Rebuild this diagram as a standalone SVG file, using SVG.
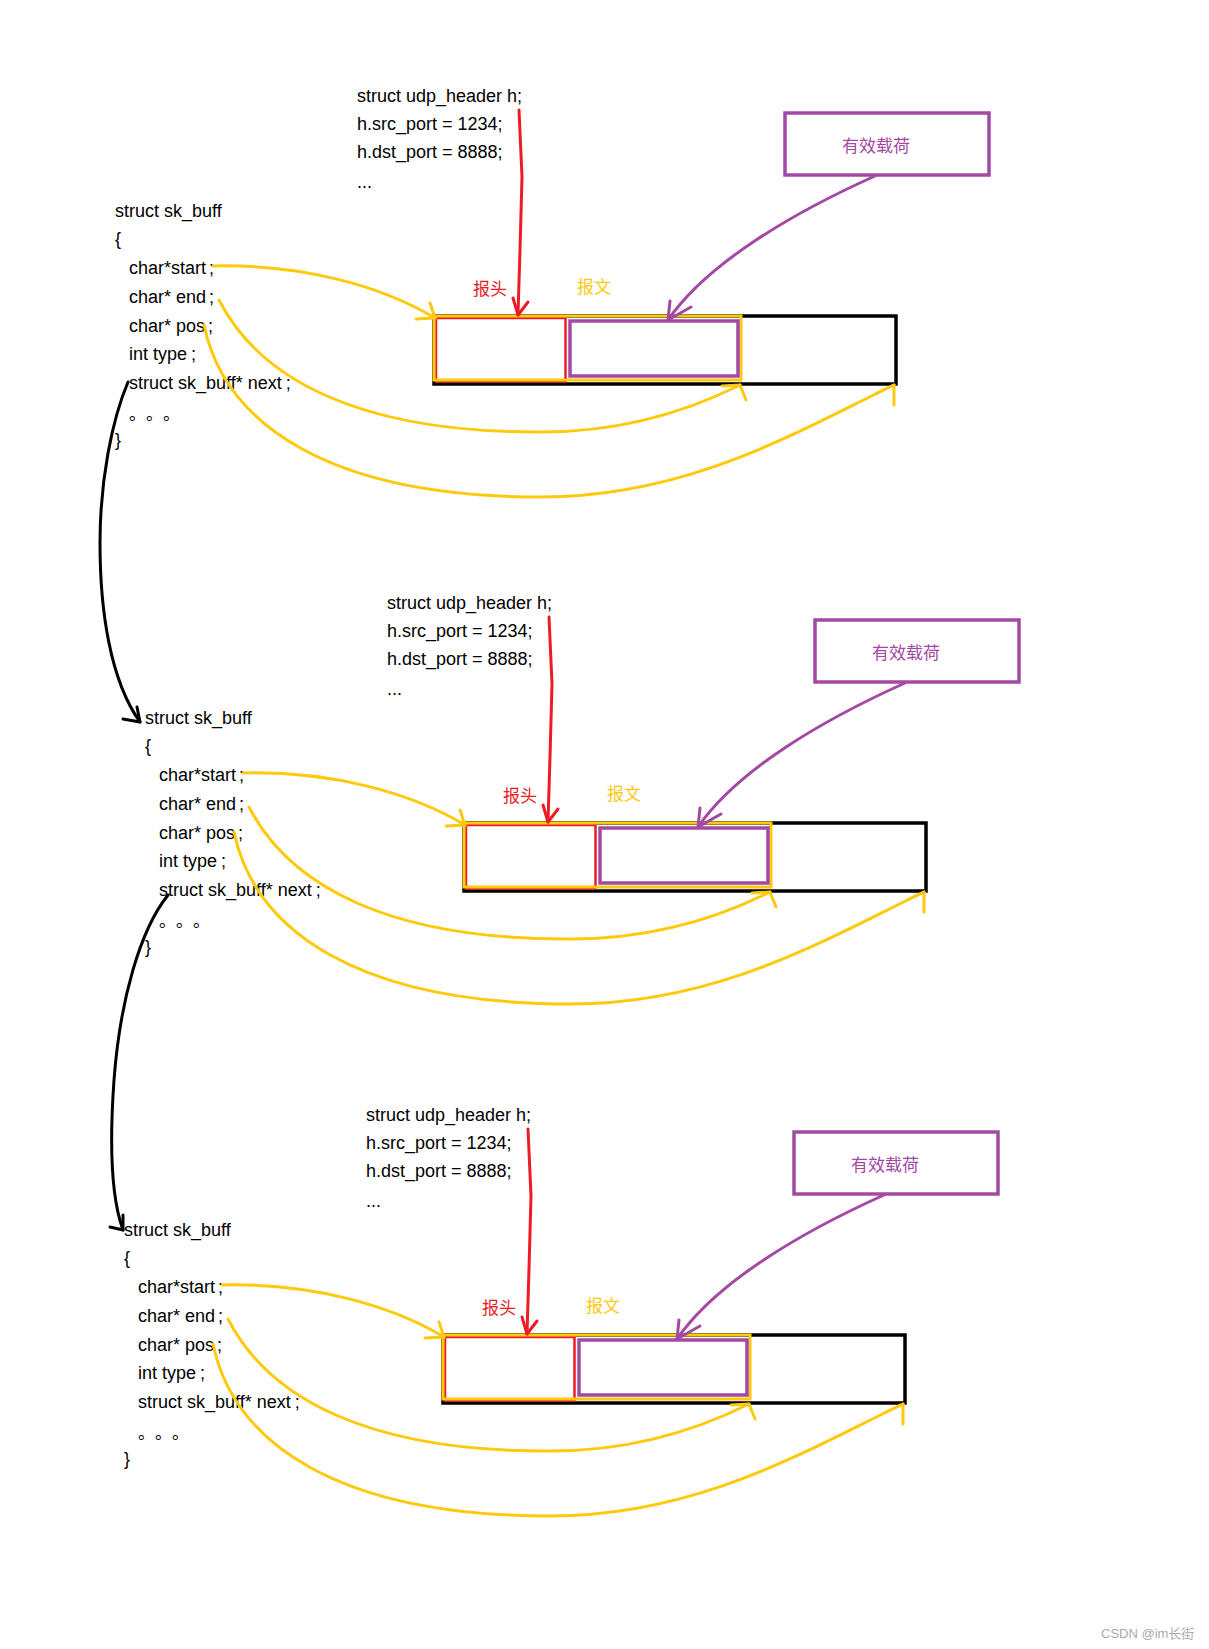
<svg xmlns="http://www.w3.org/2000/svg" width="1209" height="1649" viewBox="0 0 1209 1649">
<style>
.code{font-family:"Liberation Sans","Noto Sans CJK SC",sans-serif;font-size:18px;fill:#000}
.dots{font-family:"Noto Sans CJK SC",sans-serif;font-size:17px;fill:#000}
.cjk{font-family:"Noto Sans CJK SC",sans-serif;font-size:17px}
.red{fill:#ED1C24}.gold{fill:#FFC90E}.pur{fill:#A349A4}
.yl{stroke:#FFC90E;stroke-width:3;fill:none;stroke-linecap:round;stroke-linejoin:round}
.rl{stroke:#ED1C24;stroke-width:3;fill:none;stroke-linecap:round;stroke-linejoin:round}
.pl{stroke:#A349A4;stroke-width:3;fill:none;stroke-linecap:round;stroke-linejoin:round}
.bl{stroke:#000;stroke-width:3;fill:none;stroke-linecap:round;stroke-linejoin:round}
.wm{font-family:"Liberation Sans","Noto Sans CJK SC",sans-serif;font-size:13px;fill:#aaa}
</style>
<rect width="1209" height="1649" fill="#fff"/>

<!-- Block 1 -->
<g id="block1">
  <g id="b1-udp">
    <text class="code" x="357" y="102">struct udp_header h;</text>
    <text class="code" x="357" y="130">h.src_port = 1234;</text>
    <text class="code" x="357" y="158">h.dst_port = 8888;</text>
    <text class="code" x="357" y="188">...</text>
  </g>
  <g id="b1-skbuff">
    <text class="code" x="115" y="217">struct sk_buff</text>
    <text class="code" x="115" y="245">{</text>
    <text class="code" x="129" y="274">char*start<tspan dx="3">;</tspan></text>
    <text class="code" x="129" y="303">char* end<tspan dx="3">;</tspan></text>
    <text class="code" x="129" y="332">char* pos<tspan dx="3">;</tspan></text>
    <text class="code" x="129" y="360">int type<tspan dx="4">;</tspan></text>
    <text class="code" x="129" y="389">struct sk_buff* next<tspan dx="4">;</tspan></text>
    <text class="dots" x="129 146 163" y="420">。。。</text>
    <text class="code" x="115" y="446">}</text>
  </g>
  <g id="b1-payload">
    <rect x="785" y="113" width="204" height="62" fill="none" stroke="#A349A4" stroke-width="3.5"/>
    <text class="cjk pur" x="842" y="152">有效载荷</text>
  </g>
  <g id="b1-buffer">
    <rect x="434" y="316" width="462" height="68" fill="none" stroke="#000" stroke-width="3.5"/>
    <rect x="436" y="318" width="129.5" height="63.5" fill="none" stroke="#ED1C24" stroke-width="2.5"/>
    <rect x="434" y="316" width="307" height="64" fill="none" stroke="#FFC90E" stroke-width="3"/>
    <rect x="570" y="321" width="168" height="55" fill="none" stroke="#A349A4" stroke-width="3.5"/>
  </g>
  <g id="b1-labels">
    <text class="cjk red" x="473" y="295">报头</text>
    <text class="cjk gold" x="577" y="293">报文</text>
  </g>
</g>

<!-- Block 2 -->
<g id="block2" transform="translate(30,507)">
  <g id="b2-udp">
    <text class="code" x="357" y="102">struct udp_header h;</text>
    <text class="code" x="357" y="130">h.src_port = 1234;</text>
    <text class="code" x="357" y="158">h.dst_port = 8888;</text>
    <text class="code" x="357" y="188">...</text>
  </g>
  <g id="b2-skbuff">
    <text class="code" x="115" y="217">struct sk_buff</text>
    <text class="code" x="115" y="245">{</text>
    <text class="code" x="129" y="274">char*start<tspan dx="3">;</tspan></text>
    <text class="code" x="129" y="303">char* end<tspan dx="3">;</tspan></text>
    <text class="code" x="129" y="332">char* pos<tspan dx="3">;</tspan></text>
    <text class="code" x="129" y="360">int type<tspan dx="4">;</tspan></text>
    <text class="code" x="129" y="389">struct sk_buff* next<tspan dx="4">;</tspan></text>
    <text class="dots" x="129 146 163" y="420">。。。</text>
    <text class="code" x="115" y="446">}</text>
  </g>
  <g id="b2-payload">
    <rect x="785" y="113" width="204" height="62" fill="none" stroke="#A349A4" stroke-width="3.5"/>
    <text class="cjk pur" x="842" y="152">有效载荷</text>
  </g>
  <g id="b2-buffer">
    <rect x="434" y="316" width="462" height="68" fill="none" stroke="#000" stroke-width="3.5"/>
    <rect x="436" y="318" width="129.5" height="63.5" fill="none" stroke="#ED1C24" stroke-width="2.5"/>
    <rect x="434" y="316" width="307" height="64" fill="none" stroke="#FFC90E" stroke-width="3"/>
    <rect x="570" y="321" width="168" height="55" fill="none" stroke="#A349A4" stroke-width="3.5"/>
  </g>
  <g id="b2-labels">
    <text class="cjk red" x="473" y="295">报头</text>
    <text class="cjk gold" x="577" y="293">报文</text>
  </g>
</g>

<!-- Block 3 -->
<g id="block3" transform="translate(9,1019)">
  <g id="b3-udp">
    <text class="code" x="357" y="102">struct udp_header h;</text>
    <text class="code" x="357" y="130">h.src_port = 1234;</text>
    <text class="code" x="357" y="158">h.dst_port = 8888;</text>
    <text class="code" x="357" y="188">...</text>
  </g>
  <g id="b3-skbuff">
    <text class="code" x="115" y="217">struct sk_buff</text>
    <text class="code" x="115" y="245">{</text>
    <text class="code" x="129" y="274">char*start<tspan dx="3">;</tspan></text>
    <text class="code" x="129" y="303">char* end<tspan dx="3">;</tspan></text>
    <text class="code" x="129" y="332">char* pos<tspan dx="3">;</tspan></text>
    <text class="code" x="129" y="360">int type<tspan dx="4">;</tspan></text>
    <text class="code" x="129" y="389">struct sk_buff* next<tspan dx="4">;</tspan></text>
    <text class="dots" x="129 146 163" y="420">。。。</text>
    <text class="code" x="115" y="446">}</text>
  </g>
  <g id="b3-payload">
    <rect x="785" y="113" width="204" height="62" fill="none" stroke="#A349A4" stroke-width="3.5"/>
    <text class="cjk pur" x="842" y="152">有效载荷</text>
  </g>
  <g id="b3-buffer">
    <rect x="434" y="316" width="462" height="68" fill="none" stroke="#000" stroke-width="3.5"/>
    <rect x="436" y="318" width="129.5" height="63.5" fill="none" stroke="#ED1C24" stroke-width="2.5"/>
    <rect x="434" y="316" width="307" height="64" fill="none" stroke="#FFC90E" stroke-width="3"/>
    <rect x="570" y="321" width="168" height="55" fill="none" stroke="#A349A4" stroke-width="3.5"/>
  </g>
  <g id="b3-labels">
    <text class="cjk red" x="473" y="295">报头</text>
    <text class="cjk gold" x="577" y="293">报文</text>
  </g>
</g>

<!-- Connectors -->
<g id="connectors">
  <g id="c-block1">
    <path class="rl" d="M519,110 L522,177 L520,250 L518,315"/>
    <path class="rl" d="M513,298 L518,315 L528,302"/>
    <path class="pl" d="M875,176 C795,212 708,262 668,320"/>
    <path class="pl" d="M670,301 L668,320 L691,307"/>
    <path class="yl" d="M213,266 C300,264 380,285 435,318"/>
    <path class="yl" d="M416,319 L435,318 L430,303"/>
    <path class="yl" d="M219,300 C260,380 360,432 536,432 C620,433 690,410 740,385"/>
    <path class="yl" d="M722,386 L740,385 L746,400"/>
    <path class="yl" d="M204,325 C225,425 330,497 541,497 C690,497 800,430 894,385"/>
    <path class="yl" d="M877,393 L894,385 L894,405"/>
  </g>
  <g id="c-block2" transform="translate(30,507)">
    <path class="rl" d="M519,110 L522,177 L520,250 L518,315"/>
    <path class="rl" d="M513,298 L518,315 L528,302"/>
    <path class="pl" d="M875,176 C795,212 708,262 668,320"/>
    <path class="pl" d="M670,301 L668,320 L691,307"/>
    <path class="yl" d="M213,266 C300,264 380,285 435,318"/>
    <path class="yl" d="M416,319 L435,318 L430,303"/>
    <path class="yl" d="M219,300 C260,380 360,432 536,432 C620,433 690,410 740,385"/>
    <path class="yl" d="M722,386 L740,385 L746,400"/>
    <path class="yl" d="M204,325 C225,425 330,497 541,497 C690,497 800,430 894,385"/>
    <path class="yl" d="M877,393 L894,385 L894,405"/>
  </g>
  <g id="c-block3" transform="translate(9,1019)">
    <path class="rl" d="M519,110 L522,177 L520,250 L518,315"/>
    <path class="rl" d="M513,298 L518,315 L528,302"/>
    <path class="pl" d="M875,176 C795,212 708,262 668,320"/>
    <path class="pl" d="M670,301 L668,320 L691,307"/>
    <path class="yl" d="M213,266 C300,264 380,285 435,318"/>
    <path class="yl" d="M416,319 L435,318 L430,303"/>
    <path class="yl" d="M219,300 C260,380 360,432 536,432 C620,433 690,410 740,385"/>
    <path class="yl" d="M722,386 L740,385 L746,400"/>
    <path class="yl" d="M204,325 C225,425 330,497 541,497 C690,497 800,430 894,385"/>
    <path class="yl" d="M877,393 L894,385 L894,405"/>
  </g>
  <g id="c-next1">
    <path class="bl" d="M128,382 C112,420 100,480 100,543 C100,610 110,680 140,722"/>
    <path class="bl" d="M123,719 L140,722 L137,707"/>
  </g>
  <g id="c-next2">
    <path class="bl" d="M168,895 C140,930 120,1000 114,1080 C109,1150 112,1200 123,1230"/>
    <path class="bl" d="M110,1227 L123,1230 L123,1215"/>
  </g>
</g>

<text class="wm" x="1101" y="1638">CSDN @im长街</text>
</svg>
